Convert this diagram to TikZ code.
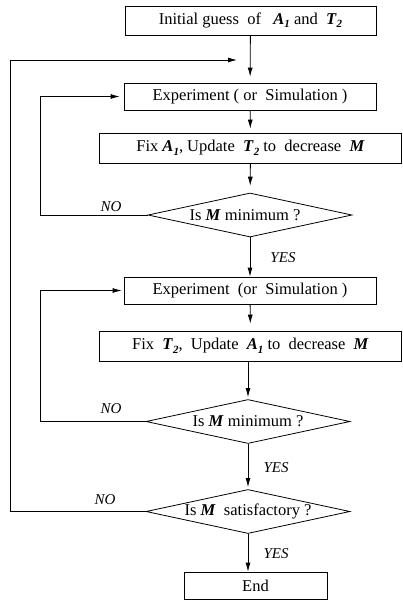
\documentclass[tikz,border=0pt]{standalone}
\usepackage{fontspec}
\setmainfont{Liberation Serif}
\usetikzlibrary{arrows.meta,shapes.geometric}
% bold italic variable with a lowered bold italic index
\newcommand{\bvar}[1]{\textbf{\textit{#1}}}
\newcommand{\bsub}[2]{\textbf{\textit{#1}}\raisebox{-0.4ex}{\fontsize{11}{11}\selectfont\textbf{\textit{#2}}}}

\begin{document}
\begin{tikzpicture}[x=1pt,y=-1pt,line width=0.8pt,
  box/.style={draw,rectangle,inner sep=0pt,font=\fontsize{16.5}{18}\selectfont},
  dec/.style={draw,diamond,inner sep=0pt,shape aspect=4.6,
    minimum width=204pt,minimum height=44pt,font=\fontsize{16.5}{18}\selectfont},
  lbl/.style={inner sep=0pt,font=\fontsize{15}{17}\selectfont\itshape},
  arr/.style={-{Latex[length=9pt,width=5pt]}}]
\useasboundingbox (0,0) rectangle (403,600);

% process boxes
\node[box,minimum width=251pt,minimum height=29pt] (init) at (250.5,20.5)
  {Initial guess \ of \ \ \bsub{A}{1} and \ \bsub{T}{2}};
\node[box,minimum width=252pt,minimum height=27pt] (exp1) at (250,96.5)
  {Experiment ( or \ Simulation )};
\node[box,minimum width=302pt,minimum height=30pt] (fix1) at (250.5,148)
  {Fix \bsub{A}{1}, Update \ \bsub{T}{2} to \ decrease \ \bvar{M}};
\node[dec] (d1) at (250,215) {\hspace*{-10pt}Is \bvar{M} minimum ?};
\node[box,minimum width=252pt,minimum height=27pt] (exp2) at (250,290.5)
  {Experiment \ (or \ Simulation )};
\node[box,minimum width=302pt,minimum height=30pt] (fix2) at (250.5,346)
  {Fix \ \bsub{T}{2}, \ Update \ \bsub{A}{1} to \ decrease \ \bvar{M}};
\node[dec] (d2) at (248,421.5) {Is \bvar{M} minimum ?};
\node[dec] (d3) at (248,511.5) {Is \bvar{M} \ satisfactory ?};
\node[box,minimum width=143pt,minimum height=27pt] (end) at (255.5,585.5) {End};

% loop-back corners and the joining point of the outer loop
\coordinate (join) at (250,60);
\coordinate (c1) at (40,215);
\coordinate (c2) at (40,421.5);
\coordinate (c3) at (10,511.5);

% main flow
\draw[arr,shorten >=6pt] (init) -- (exp1);
\draw[arr,shorten >=4pt] (exp1) -- (fix1);
\draw[arr,shorten >=7pt] (fix1) -- (d1);
\draw[arr] (d1) -- (exp2);
\draw[arr,shorten >=7pt] (exp2) -- (fix2);
\draw[arr,shorten >=2pt] (fix2.south -| d2.north) -- (d2.north);
\draw[arr,shorten >=2pt] (d2) -- (d3);
\draw[arr] (d3.south) -- (end.north -| d3.south);

% loops
\draw[arr,shorten >=4pt] (d1.west) -- (c1) |- (exp1.west);
\draw[arr,shorten >=2pt] (d2.west) -- (c2) |- (exp2.west);
\draw[arr,shorten >=13pt] (d3.west) -- (c3) |- (join);

% branch labels
\node[lbl] (no1) at (111,207) {NO};
\node[lbl] (yes1) at (283,258) {YES};
\node[lbl] (no2) at (111,409) {NO};
\node[lbl] (yes2) at (276,468) {YES};
\node[lbl] (no3) at (105,500) {NO};
\node[lbl] (yes3) at (276,554) {YES};
\end{tikzpicture}
\end{document}
